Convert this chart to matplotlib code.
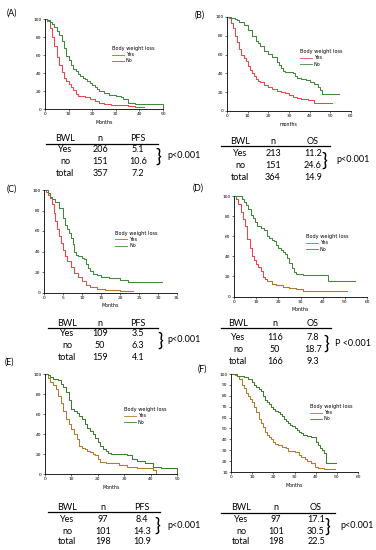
import matplotlib
matplotlib.use('Agg')
import matplotlib.pyplot as plt
from matplotlib.lines import Line2D
import numpy as np

W, H = 376, 550

# ---- survival data (months, % surviving) ----
a_yes_t = [0, 1, 2, 3, 4, 5, 6, 7, 8, 9, 10, 11, 12, 13, 14, 15, 17, 19, 21, 23, 25, 28, 31, 35, 38, 42]
a_yes_s = [100, 98, 90, 80, 70, 58, 49, 41, 35, 31, 28, 25, 21, 17, 15, 14, 13, 11, 9, 7, 6, 5, 4, 3, 2, 2]
a_no_t = [0, 1, 2, 3, 4, 5, 6, 7, 8, 9, 10, 11, 12, 13, 14, 15, 16, 17, 18, 19, 20, 21, 22, 23, 25, 27, 30, 32, 33, 35, 38, 44, 50]
a_no_s = [100, 99, 97, 94, 91, 87, 82, 76, 68, 59, 54, 49, 45, 42, 39, 37, 35, 33, 31, 29, 27, 25, 22, 20, 18, 16, 15, 13, 11, 7, 6, 5.5, 0]

b_yes_t = [0, 1, 2, 3, 4, 5, 6, 7, 8, 9, 10, 11, 12, 13, 14, 15, 16, 18, 20, 22, 24, 26, 28, 30, 32, 34, 36, 39, 42, 51]
b_yes_s = [100, 99, 94, 88, 80, 73, 66, 60, 56, 53, 48, 44, 40, 37, 34, 32, 31, 28, 26, 23, 21, 20, 19, 17, 15, 14, 13, 12, 9, 9]
b_no_t = [0, 2, 4, 5, 6, 8, 10, 12, 14, 15, 16, 18, 20, 22, 24, 25, 26, 27, 28, 30, 32, 33, 34, 36, 38, 40, 42, 44, 45, 46, 54]
b_no_s = [100, 99, 98, 97, 95, 91, 86, 80, 75, 72, 69, 64, 61, 57, 52, 49, 46, 43, 42, 41, 40, 37, 35, 34, 33, 31, 29, 26, 22, 18, 18]

c_yes_t = [0, 0.5, 1, 1.5, 2, 2.5, 3, 3.5, 4, 4.5, 5, 5.5, 6, 7, 8, 9, 10, 11, 12, 14, 16, 20, 23.5]
c_yes_s = [100, 98, 95, 92, 86, 78, 70, 62, 55, 48, 41, 36, 31, 25, 19, 15, 11, 7, 5, 3, 2, 1, 1]
c_no_t = [0, 1, 1.5, 2, 3, 4, 5, 5.5, 6, 6.5, 7, 7.5, 8, 8.5, 9, 10, 10.5, 11, 11.5, 12, 13, 14, 15, 17, 20, 22, 31]
c_no_s = [100, 97, 93, 91, 88, 82, 73, 66, 62, 58, 53, 47, 40, 37, 36, 34, 33, 28, 24, 21, 18, 17, 15.5, 14, 12.5, 10.5, 10.5]

d_yes_t = [0, 1, 2, 3, 4, 5, 6, 7, 8, 9, 10, 11, 12, 13, 14, 15, 17, 19, 22, 25, 28, 31, 51]
d_yes_s = [100, 97, 92, 84, 77, 70, 57, 48, 40, 36, 32, 29, 25, 19, 17, 15, 12, 11, 9, 8, 7, 5.5, 5.5]
d_no_t = [0, 3.5, 4.5, 5.5, 6.5, 7.5, 8.5, 9.5, 10.5, 12, 13.5, 15, 16, 17, 18, 19, 20, 21, 22, 23, 24, 25, 26, 27, 28, 31, 42.5, 54.5]
d_no_s = [100, 97, 94, 91, 87, 81, 78, 74, 70, 68, 66, 60, 58, 56, 55, 51, 48, 46, 44, 42, 38, 33, 28, 24, 22, 21, 15, 15]

e_yes_t = [0, 1, 2, 3, 4, 5, 6, 7, 8, 9, 10, 11, 12, 13, 14, 15, 16, 17, 18, 19, 20, 21, 23, 25, 28, 31, 35, 39, 41, 42]
e_yes_s = [100, 96, 92, 89, 85, 78, 71, 63, 55, 50, 45, 40, 35, 28, 26, 25, 23, 22, 20, 19, 15, 12, 11, 11, 9, 7, 6, 6, 4, 0]
e_no_t = [0, 1, 2, 3, 5, 6, 7, 8, 9, 10, 11, 12, 13, 14, 15, 16, 17, 18, 19, 20, 21, 22, 23, 24, 25, 31, 33, 35, 38, 41, 44, 50]
e_no_s = [100, 99, 97, 95, 94, 90, 87, 82, 74, 65, 63, 61, 58, 55, 50, 46, 43, 40, 36, 32, 28, 25, 23, 21, 20, 19, 15, 13, 11, 7, 6, 0]

f_yes_t = [0, 2, 3, 4, 5, 6, 7, 8, 9, 10, 11, 12, 13, 14, 15, 16, 17, 18, 19, 20, 21, 22, 24, 26, 27, 30, 32, 33, 35, 36, 38, 39.5, 41, 44, 49]
f_yes_s = [100, 99, 98, 95, 90, 87, 83, 80, 77, 74, 70, 65, 59, 55, 51, 47, 44, 42, 40, 38, 36, 35, 33, 32, 29, 28, 26, 24, 22, 20, 18, 15, 14, 13, 13]
f_no_t = [0, 3, 6, 8, 10, 11, 12, 13, 14, 15, 16, 17, 18, 19, 20, 21, 22, 23, 24, 25, 26, 27, 28, 29, 30, 31, 32, 33, 34, 36, 38, 40, 41, 42, 43, 44, 45, 49.7]
f_no_s = [100, 98, 97, 95, 93, 90, 88, 86, 84, 80, 76, 74, 72, 70, 68, 66, 65, 63, 61, 59, 57, 55, 53, 52, 50, 49, 47, 46, 44, 43, 42, 38, 35, 32, 30, 27, 18, 18]

# ---- tables ----
row_labels = ['Yes', 'no', 'total']
a_n = [206, 151, 357]; a_med = ['5.1', '10.6', '7.2']
b_n = [213, 151, 364]; b_med = ['11.2', '24.6', '14.9']
c_n = [109, 50, 159]; c_med = ['3.5', '6.3', '4.1']
d_n = [116, 50, 166]; d_med = ['7.8', '18.7', '9.3']
e_n = [97, 101, 198]; e_med = ['8.4', '14.3', '10.9']
f_n = [97, 101, 198]; f_med = ['17.1', '30.5', '22.5']

RED = '#f0444a'
GREEN = '#3f8a3a'
BROWN = '#b27a2c'
DGREEN = '#3e7d2c'
TFONT = ['Lato', 'DejaVu Sans']

fig = plt.figure(figsize=(W / 100, H / 100), dpi=100)


def ftxt(x, y, s, **kw):
    return fig.text(x / W, 1 - y / H, s, **kw)


def fline(x0, x1, y):
    fig.add_artist(Line2D([x0 / W, x1 / W], [1 - y / H, 1 - y / H], color='black', lw=0.9))


panels = [
    dict(lab='(A)', lp=(7, 13), box=(45, 163, 19, 109), xmax=50, xstep=10, ymin=0, ystep=20, xl='Months',
         yes=(a_yes_t, a_yes_s), no=(a_no_t, a_no_s), cy=RED, cn=GREEN, tail=None, leg=(112, 46),
         tab=dict(head=('BWL', 'n', 'PFS'), n=a_n, med=a_med, cols=(65, 100, 138), hy=138, ly=144,
                  rows=(150, 162, 173), line=(46, 158), br=155, p='p<0.001', px=167)),
    dict(lab='(B)', lp=(195, 15), box=(227, 351, 17, 111), xmax=60, xstep=10, ymin=0, ystep=20, xl='months',
         yes=(b_yes_t, b_yes_s), no=(b_no_t, b_no_s), cy=RED, cn=GREEN, tail=None, leg=(300, 49),
         tab=dict(head=('BWL', 'n', 'OS'), n=b_n, med=b_med, cols=(240, 273, 313), hy=141, ly=146,
                  rows=(154, 166, 178), line=(221, 330), br=321, p='p<0.001', px=336)),
    dict(lab='(C)', lp=(7, 189), box=(44, 177, 190, 292.5), xmax=35, xstep=5, ymin=0, ystep=20, xl='Months',
         yes=(c_yes_t, c_yes_s), no=(c_no_t, c_no_s), cy=RED, cn=GREEN, tail=10, leg=(115, 231),
         tab=dict(head=('BWL', 'n', 'PFS'), n=c_n, med=c_med, cols=(67, 100, 138), hy=323, ly=328,
                  rows=(334, 346, 358), line=(48, 158), br=157, p='p<0.001', px=167)),
    dict(lab='(D)', lp=(193, 188), box=(234, 367, 196, 296.5), xmax=60, xstep=10, ymin=0, ystep=20, xl='Months',
         yes=(d_yes_t, d_yes_s), no=(d_no_t, d_no_s), cy=RED, cn=GREEN, tail=15, leg=(306, 234),
         tab=dict(head=('BWL', 'n', 'OS'), n=d_n, med=d_med, cols=(238, 275, 313), hy=323, ly=328,
                  rows=(337, 350, 362), line=(221, 331), br=323, p='P <0.001', px=335)),
    dict(lab='(E)', lp=(5, 362), box=(45, 177, 374, 474), xmax=50, xstep=10, ymin=0, ystep=20, xl='Months',
         yes=(e_yes_t, e_yes_s), no=(e_no_t, e_no_s), cy=BROWN, cn=DGREEN, tail=None, leg=(124, 407),
         tab=dict(head=('BWL', 'n', 'PFS'), n=e_n, med=e_med, cols=(67, 103, 142), hy=507, ly=512,
                  rows=(519, 531, 542), line=(48, 160), br=154, p='p<0.001', px=167)),
    dict(lab='(F)', lp=(198, 369), box=(231, 358, 374, 472), xmax=60, xstep=10, ymin=10, ystep=10, xl='Months',
         yes=(f_yes_t, f_yes_s), no=(f_no_t, f_no_s), cy=BROWN, cn=DGREEN, tail=None, leg=(310, 404),
         tab=dict(head=('BWL', 'n', 'OS'), n=f_n, med=f_med, cols=(241, 276, 316), hy=508, ly=513,
                  rows=(520, 532, 542), line=(221, 335), br=324, p='p<0.001', px=340)),
]

for p in panels:
    x0, x1, yt, yb = p['box']
    ax = fig.add_axes([x0 / W, 1 - yb / H, (x1 - x0) / W, (yb - yt) / H])
    ax.step(p['yes'][0], p['yes'][1], where='post', color=p['cy'], lw=0.75, label='Yes', clip_on=False)
    if p['tail'] is not None:
        t = np.array(p['yes'][0]); s = np.array(p['yes'][1])
        m = t >= p['tail']
        ax.step(t[m], s[m], where='post', color=BROWN, lw=0.75, clip_on=False)
    ax.step(p['no'][0], p['no'][1], where='post', color=p['cn'], lw=0.75, label='No', clip_on=False)
    ax.set_xlim(0, p['xmax'])
    ax.set_ylim(p['ymin'], 100)
    ax.set_xticks(np.arange(0, p['xmax'] + 1, p['xstep']))
    ax.set_yticks(np.arange(p['ymin'], 101, p['ystep']))
    for sp in ('top', 'right'):
        ax.spines[sp].set_visible(False)
    for sp in ('left', 'bottom'):
        ax.spines[sp].set_linewidth(0.6)
    ax.tick_params(direction='out', length=1.5, width=0.4, labelsize=3.2, pad=1)
    ax.set_xlabel(p['xl'], fontsize=3.4, labelpad=2.5)
    lx, ly = p['leg']
    leg = ax.legend(loc='upper left', bbox_to_anchor=(lx / W, 1 - ly / H), bbox_transform=fig.transFigure,
                    frameon=False, fontsize=3.6, title='Body weight loss', title_fontsize=3.6,
                    handlelength=2.4, handletextpad=0.4, labelspacing=0.25, borderpad=0, borderaxespad=0,
                    alignment='left')
    for ln in leg.get_lines():
        ln.set_linewidth(0.6)

    ftxt(p['lp'][0], p['lp'][1], p['lab'], fontsize=6.3, va='center', ha='left', family=TFONT)

    tb = p['tab']
    for j, h in enumerate(tb['head']):
        ftxt(tb['cols'][j], tb['hy'], h, fontsize=6.5, ha='center', va='center', family=TFONT)
    fline(tb['line'][0], tb['line'][1], tb['ly'])
    for i in range(3):
        vals = [row_labels[i], str(tb['n'][i]), tb['med'][i]]
        for j, v in enumerate(vals):
            ftxt(tb['cols'][j], tb['rows'][i], v, fontsize=6.5, ha='center', va='center', family=TFONT)
    by = (tb['rows'][0] + tb['rows'][1]) / 2
    ftxt(tb['br'], by, '}', fontsize=14, ha='left', va='center', family=TFONT)
    ftxt(tb['px'], by, tb['p'], fontsize=6.5, ha='left', va='center', family=TFONT)

fig.savefig('out.png', dpi=100)
